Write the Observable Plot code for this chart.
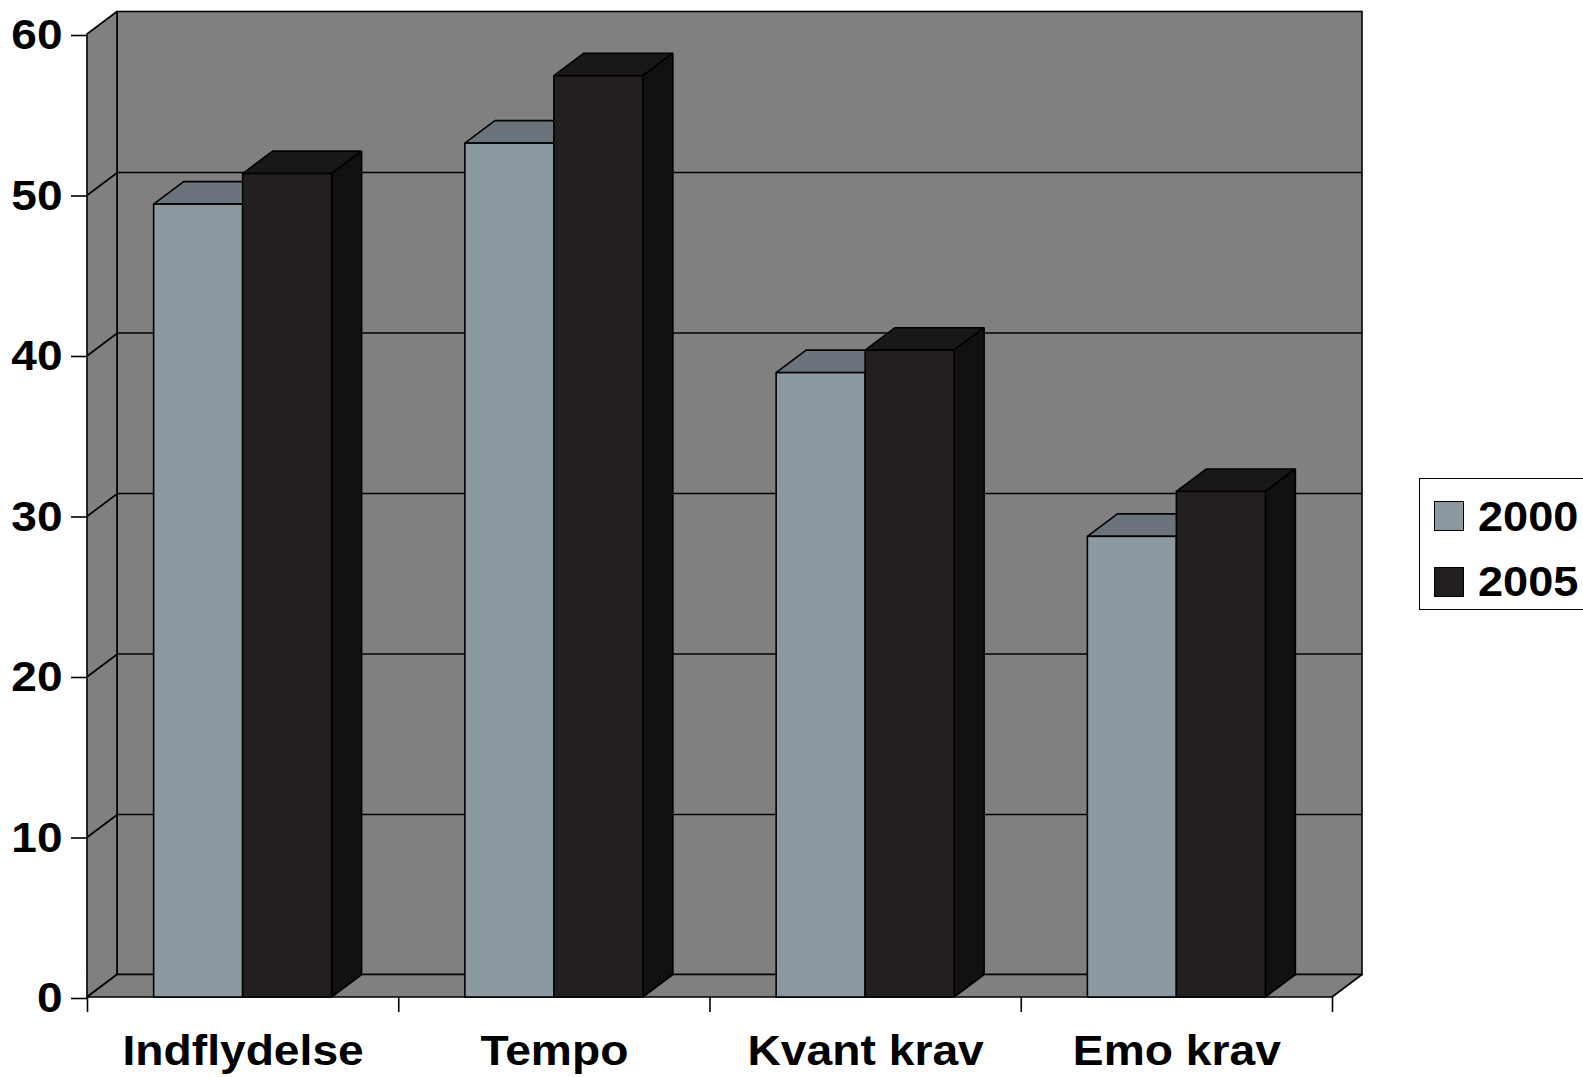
<!DOCTYPE html>
<html>
<head>
<meta charset="utf-8">
<script src="https://cdn.jsdelivr.net/npm/d3@7"></script>
<script src="https://cdn.jsdelivr.net/npm/@observablehq/plot@0.6"></script>
<style>
  html, body { margin: 0; padding: 0; background: #fff; overflow: hidden; }
  #wrap { position: relative; width: 1583px; height: 1077px; font-family: Arial, "Liberation Sans", sans-serif; }
  #legend { position: absolute; left: 1419px; top: 478px; width: 180px; height: 132px; box-sizing: border-box; border: 1.5px solid #000; background: #fff; }
  .sw { position: absolute; left: 14px; width: 30px; height: 30px; box-sizing: border-box; border: 1.5px solid #000; }
  .lt { position: absolute; left: 58px; font-size: 43px; font-weight: bold; line-height: 1; color: #000; white-space: nowrap; transform: scaleX(1.05); transform-origin: left center; }
</style>
</head>
<body>
<div id="wrap">
  <div id="chart"></div>
  <div id="legend"></div>
</div>
<script>
// ---- data ----
const categories = ["Indflydelse", "Tempo", "Kvant krav", "Emo krav"];
const series = ["2000", "2005"];
const values2000 = [49.4, 53.2, 38.9, 28.7];
const values2005 = [51.3, 57.4, 40.3, 31.5];
const yTicks = [0, 10, 20, 30, 40, 50, 60];

// ---- styles ----
const colors = {
  "2000": {front: "#8C99A1", top: "#6B747C", side: "#5E666D"},
  "2005": {front: "#231F20", top: "#1A1718", side: "#121011"}
};
const wallColor = "#808080";
const SW = 1.6;

// ---- layout ----
const W = 1583, H = 1077, ML = 87, MR = 251, MT = 34, MB = 80;
const yMax = 60;
const pxPerX = (W - ML - MR) / categories.length;
const pxPerY = (H - MT - MB) / yMax;
const DX = 30 / pxPerX;     // depth offset (x units)
const DY = 22.5 / pxPerY;   // depth offset (y units)
const BW = 89 / pxPerX;     // bar width (x units)
const N = categories.length;

const valuesBySeries = {"2000": values2000, "2005": values2005};
const bars = [];
series.forEach((s, si) => {
  categories.forEach((c, i) => {
    const x1 = si === 0 ? i + 0.5 - BW : i + 0.5;
    bars.push({id: s + c, s, c, v: valuesBySeries[s][i], x1, x2: x1 + BW});
  });
});

const topPts = b => [
  {id: b.id, y: b.v, x1: b.x1, x2: b.x2},
  {id: b.id, y: b.v + DY, x1: b.x1 + DX, x2: b.x2 + DX}
];
const sidePts = b => [
  {id: b.id, x: b.x2, y1: 0, y2: b.v},
  {id: b.id, x: b.x2 + DX, y1: DY, y2: b.v + DY}
];

const barMarks = series.flatMap(s => {
  const bs = bars.filter(b => b.s === s);
  return [
    Plot.areaX(bs.flatMap(topPts), {y: "y", x1: "x1", x2: "x2", z: "id", fill: colors[s].top, stroke: "#000", strokeWidth: SW, strokeLinejoin: "miter"}),
    Plot.areaY(bs.flatMap(sidePts), {x: "x", y1: "y1", y2: "y2", z: "id", fill: colors[s].side, stroke: "#000", strokeWidth: SW, strokeLinejoin: "miter"}),
    Plot.rect(bs, {x1: "x1", x2: "x2", y1: () => 0, y2: "v", fill: colors[s].front, stroke: "#000", strokeWidth: SW})
  ];
});

const chart = Plot.plot({
  width: W,
  height: H,
  marginLeft: ML,
  marginRight: MR,
  marginTop: MT,
  marginBottom: MB,
  x: {domain: [0, N]},
  y: {domain: [0, yMax]},
  style: {fontFamily: 'Arial, "Liberation Sans", sans-serif', background: "transparent", overflow: "visible", color: "#000"},
  marks: [
    // back wall
    Plot.rect([{x1: DX, x2: N + DX, y1: DY, y2: yMax + DY}], {x1: "x1", x2: "x2", y1: "y1", y2: "y2", fill: wallColor, stroke: "#000", strokeWidth: SW}),
    // left wall
    Plot.areaY([{x: 0, y1: 0, y2: yMax}, {x: DX, y1: DY, y2: yMax + DY}], {x: "x", y1: "y1", y2: "y2", fill: wallColor, stroke: "#000", strokeWidth: SW}),
    // floor
    Plot.areaX([{y: 0, x1: 0, x2: N}, {y: DY, x1: DX, x2: N + DX}], {y: "y", x1: "x1", x2: "x2", fill: wallColor, stroke: "#000", strokeWidth: SW}),
    // gridlines on back wall
    Plot.ruleY(yTicks.filter(v => v > 0 && v < yMax), {y: d => d + DY, x1: () => DX, x2: () => N + DX, stroke: "#000", strokeWidth: SW}),
    // gridlines on left wall
    Plot.link(yTicks.filter(v => v > 0 && v < yMax), {x1: () => 0, y1: d => d, x2: () => DX, y2: d => d + DY, stroke: "#000", strokeWidth: SW}),
    ...barMarks,
    // y axis
    Plot.axisY(yTicks, {tickSize: 16, tickPadding: 9, fontSize: 43, fontWeight: "bold", dy: 1, label: null, strokeWidth: SW}),
    // x axis ticks at category boundaries
    Plot.axisX(d3.range(N + 1), {tickSize: 15, tickFormat: () => "", label: null, strokeWidth: SW}),
    // x axis category labels
    Plot.axisX(categories.map((c, i) => i + 0.5), {tickSize: 0, tickPadding: 38, tickFormat: d => categories[Math.floor(d)], fontSize: 42, fontWeight: "bold", label: null})
  ]
});

document.getElementById("chart").appendChild(chart);

// slight horizontal stretch of the text, as in the reference rendering
function stretch(selector, k) {
  d3.select(chart).selectAll(selector).each(function() {
    const L = this.getComputedTextLength();
    if (L > 0) {
      this.setAttribute("textLength", (L * k).toFixed(1));
      this.setAttribute("lengthAdjust", "spacingAndGlyphs");
    }
  });
}
stretch('g[aria-label="x-axis tick label"] text', 1.1);
stretch('g[aria-label="y-axis tick label"] text', 1.07);

// ---- legend ----
const legend = d3.select("#legend");
series.forEach((s, i) => {
  legend.append("div").attr("class", "sw").style("top", (22 + i * 66) + "px").style("background", colors[s].front);
  legend.append("div").attr("class", "lt").style("top", (15.5 + i * 65) + "px").text(s);
});
</script>
</body>
</html>
